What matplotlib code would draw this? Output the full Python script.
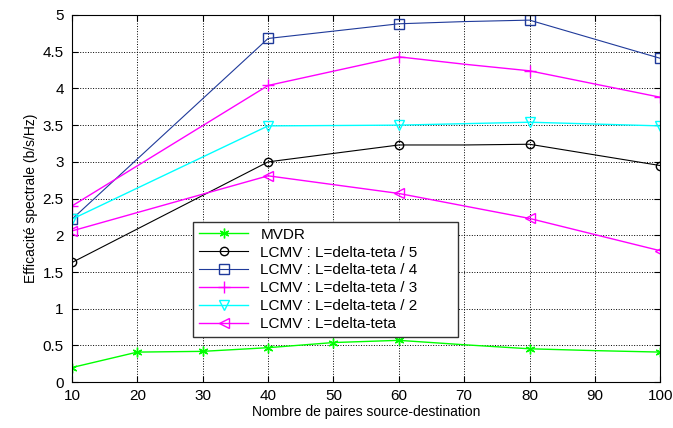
import matplotlib
matplotlib.use("Agg")
import matplotlib.pyplot as plt

# data
x_mvdr = [10, 20, 30, 40, 50, 60, 70, 80, 90, 100]
mvdr = [0.20, 0.41, 0.42, 0.47, 0.54, 0.57, 0.51, 0.455, 0.43, 0.41]
mvdr_marks = [0, 1, 2, 3, 4, 5, 7, 9]

x_lcmv = [10, 40, 60, 70, 80, 100]
lcmv_marks = [0, 1, 2, 4, 5]
lcmv_5 = [1.63, 3.00, 3.23, 3.23, 3.24, 2.95]
lcmv_4 = [2.22, 4.68, 4.88, 4.91, 4.93, 4.41]
lcmv_3 = [2.40, 4.04, 4.43, 4.33, 4.24, 3.88]
lcmv_2 = [2.22, 3.49, 3.50, 3.52, 3.54, 3.49]
lcmv_1 = [2.06, 2.81, 2.57, 2.40, 2.23, 1.79]

plt.rcParams["font.family"] = ["Liberation Sans", "DejaVu Sans"]

fig = plt.figure(figsize=(6.73, 4.28), dpi=100)
ax = fig.add_axes([0.107, 0.107, 0.874, 0.858])

# matlab style asterisk marker
star = (6, 2, 0)
ax.plot(x_mvdr, mvdr, color="#00ff00", marker=star, markevery=mvdr_marks,
        ms=7, mew=1, lw=1, label="MVDR")
ax.plot(x_lcmv, lcmv_5, color="black", marker="o", markevery=lcmv_marks,
        ms=6, mfc="none", lw=0.8, label="LCMV : L=delta-teta / 5")
ax.plot(x_lcmv, lcmv_4, color="#1f3a9a", marker="s", markevery=lcmv_marks,
        ms=6.5, mfc="none", lw=0.8, label="LCMV : L=delta-teta / 4")
ax.plot(x_lcmv, lcmv_3, color="#ff00ff", marker="+", markevery=lcmv_marks,
        ms=8, lw=1, label="LCMV : L=delta-teta / 3")
ax.plot(x_lcmv, lcmv_2, color="#00ffff", marker="v", markevery=lcmv_marks,
        ms=6.5, mfc="none", lw=1, label="LCMV : L=delta-teta / 2")
ax.plot(x_lcmv, lcmv_1, color="#ff00ff", marker="<", markevery=lcmv_marks,
        ms=6.5, mfc="none", lw=1, label="LCMV : L=delta-teta")

ax.set_xlim(10, 100)
ax.set_ylim(0, 5)
ax.set_xticks(range(10, 101, 10))
ax.set_yticks([0, 0.5, 1, 1.5, 2, 2.5, 3, 3.5, 4, 4.5, 5])
ax.set_yticklabels(["0", "0.5", "1", "1.5", "2", "2.5", "3", "3.5", "4", "4.5", "5"])
ax.tick_params(direction="in", labelsize=11, length=4, top=True, right=True)
ax.tick_params(axis="y", pad=6)
ax.tick_params(axis="x", pad=5)
ax.grid(True, linestyle=":", color="black", linewidth=0.7)
for s in ax.spines.values():
    s.set_linewidth(0.8)

ax.set_xlabel("Nombre de paires source-destination", fontsize=10, labelpad=1)
ax.set_ylabel("Efficacité spectrale (b/s/Hz)", fontsize=10, labelpad=3)

leg = ax.legend(loc="lower left", bbox_to_anchor=(0.206, 0.123, 0.45, 0.346),
                mode="expand", fontsize=11, fancybox=False, framealpha=1,
                edgecolor="#333333", borderaxespad=0, handlelength=3.2,
                labelspacing=0.25, borderpad=0.4)
leg.get_frame().set_linewidth(1)

fig.savefig("out.png", dpi=100)
